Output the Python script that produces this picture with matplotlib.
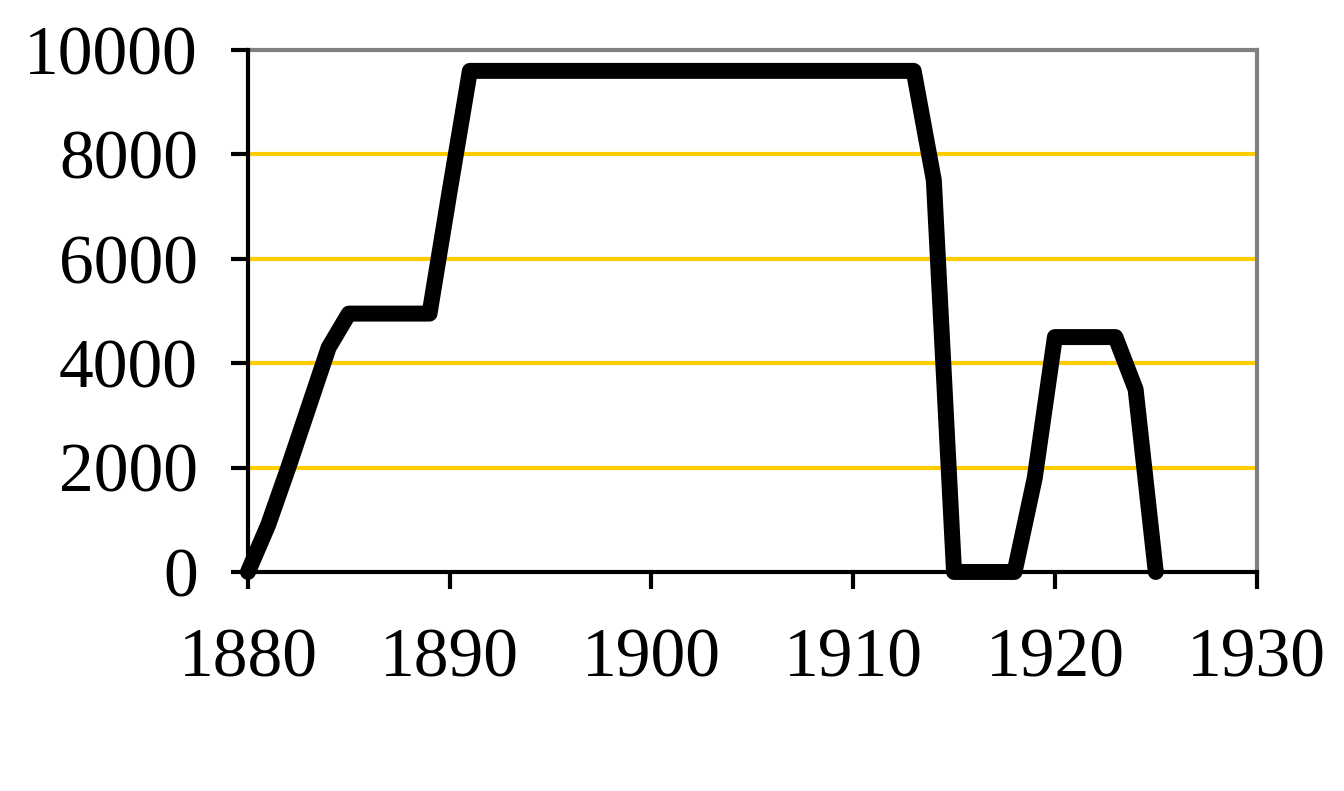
import matplotlib.pyplot as plt

# values
years = [1880, 1881, 1882, 1883, 1884, 1885, 1889, 1890, 1891,
         1913, 1914, 1915, 1918, 1919, 1920, 1923, 1924, 1925]
values = [0, 900, 2000, 3150, 4300, 4950, 4950, 7300, 9600,
          9600, 7500, 0, 0, 1800, 4500, 4500, 3500, 0]

x_ticks = [1880, 1890, 1900, 1910, 1920, 1930]
y_ticks = [0, 2000, 4000, 6000, 8000, 10000]

plt.rcParams['font.family'] = ['Liberation Serif', 'DejaVu Serif']

fig = plt.figure(figsize=(13.44, 7.91), dpi=100)
ax = fig.add_axes([0.1845, 0.2769, 0.7505, 0.6599])

# gold gridlines
for y in y_ticks[1:-1]:
    ax.axhline(y, color='#FFCC00', lw=3, zorder=1)

ax.plot(years, values, color='black', lw=11.5, solid_joinstyle='round',
        solid_capstyle='round', zorder=3, clip_on=False)

ax.set_xlim(1880, 1930)
ax.set_ylim(0, 10000)
ax.set_xticks(x_ticks)
ax.set_yticks(y_ticks)
ax.set_xticklabels([str(t) for t in x_ticks])
ax.set_yticklabels([str(t) for t in y_ticks])

ax.tick_params(axis='both', direction='out', length=12, width=3,
               labelsize=50, color='black')
ax.tick_params(axis='y', pad=24)
ax.tick_params(axis='x', pad=28)

for s in ['left', 'bottom']:
    ax.spines[s].set_linewidth(3)
    ax.spines[s].set_color('black')
    ax.spines[s].set_zorder(4)
for s in ['top', 'right']:
    ax.spines[s].set_linewidth(3)
    ax.spines[s].set_color('#808080')

fig.savefig('out.png', dpi=100)
